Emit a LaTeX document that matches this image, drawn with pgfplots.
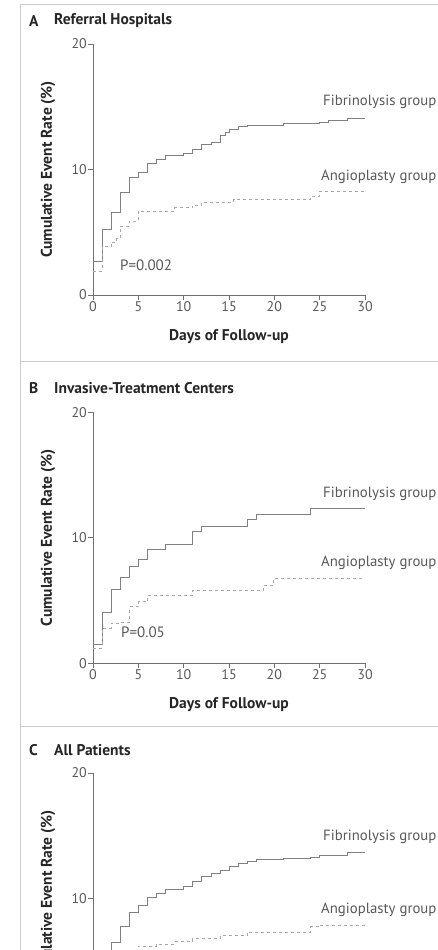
\documentclass[border=0pt]{standalone}
\usepackage{pgfplots}
\pgfplotsset{compat=1.18}
\usepackage{fontspec}
\setmainfont{PT Sans}
\newfontfamily\tickfont{PT Sans}[Numbers=OldStyle]
\definecolor{framec}{HTML}{CCCCCC}
\definecolor{axisc}{HTML}{707070}
\definecolor{fibc}{HTML}{808080}
\definecolor{angc}{HTML}{A8A8A8}
\definecolor{txt}{HTML}{262626}
\definecolor{lbl}{HTML}{585858}
\pgfplotsset{
  kmaxis/.style={
    scale only axis, width=272pt, height=251pt,
    xmin=0, xmax=30, ymin=0, ymax=20,
    axis lines=left, axis line style={-, draw=axisc, line width=0.8pt},
    xtick={0,5,...,30}, ytick={0,10,20},
    minor tick num=0,
    tick align=outside, major tick length=5pt,
    tick style={draw=axisc, line width=0.7pt},
    /pgf/number format/assume math mode=true,
    ticklabel style={font=\tickfont\fontsize{14}{16}\selectfont, text=lbl},
    yticklabel style={inner xsep=1pt},
    xticklabel style={inner ysep=1.5pt},
    clip=false,
  },
}
\tikzset{
  fib/.style={const plot, draw=fibc, line width=0.7pt},
  ang/.style={const plot, draw=angc, line width=0.7pt, dash pattern=on 3pt off 3pt},
  ttl/.style={anchor=west, text=txt, font=\fontsize{15.5}{17}\selectfont\bfseries, inner sep=0pt},
  grp/.style={anchor=west, text=lbl, font=\fontsize{14.8}{16}\selectfont, inner sep=0pt},
  pv/.style={anchor=west, text=lbl, font=\fontsize{15}{17}\selectfont, inner sep=0pt},
  axl/.style={text=txt, font=\fontsize{15.5}{17}\selectfont\bfseries, inner sep=0pt},
}
\begin{document}
\begin{tikzpicture}
\useasboundingbox (0pt,0pt) rectangle (438pt,-950pt);
\begin{scope}
\clip (0pt,0pt) rectangle (438pt,-950pt);
% frames
\draw[draw=framec, line width=1pt] (20.5pt,-950pt) -- (20.5pt,-5pt) -- (438pt,-5pt);
\draw[draw=framec, line width=1pt] (20.5pt,-361pt) -- (438pt,-361pt);
\draw[draw=framec, line width=1pt] (20.5pt,-726pt) -- (438pt,-726pt);

% ---------------- Panel A ----------------
\begin{axis}[kmaxis, at={(93pt,-295pt)}, anchor=south west]
\addplot[fib] coordinates {(0,2.7)(1,5.2)(2,6.6)(3,8.2)(4,9.4)(5,9.8)(6,10.5)(7,10.8)(8,11.15)(10,11.3)(11,11.6)(12,12.0)(13,12.2)(14,12.7)(14.6,13.0)(15,13.2)(16,13.4)(17,13.5)(21,13.65)(25,13.75)(26,13.9)(28,14.1)(30,14.1)};
\addplot[ang] coordinates {(0,1.9)(1,3.85)(2,4.2)(2.6,4.5)(3,5.5)(4,5.85)(5,6.7)(9,6.95)(11,7.15)(12,7.4)(15.5,7.6)(24,7.9)(25,8.25)(30,8.3)};
\end{axis}
\node[ttl] at (29pt,-21pt) {A};
\node[ttl] at (54pt,-21pt) {Referral Hospitals};
\node[grp] at (323pt,-101.7pt) {Fibrinolysis group};
\node[grp] at (321pt,-176.7pt) {Angioplasty group};
\node[pv] at (120pt,-265pt) {P=0.002};
\node[axl] at (229pt,-337pt) {Days of Follow-up};
\node[axl, rotate=90] at (48pt,-169.5pt) {Cumulative Event Rate (\%)};

% ---------------- Panel B ----------------
\begin{axis}[kmaxis, at={(93pt,-663.3pt)}, anchor=south west]
\addplot[fib] coordinates {(0,1.5)(1,4.1)(2,5.9)(3,6.85)(4,7.7)(5,8.3)(6,9.1)(8,9.5)(11,10.5)(12,10.95)(17,11.45)(18,11.9)(24,12.35)(30,12.35)};
\addplot[ang] coordinates {(0,1.2)(1,2.8)(2,3.2)(3,3.3)(4,4.5)(5,4.9)(6,5.45)(11,5.8)(18.8,6.25)(19.9,6.75)(30,6.75)};
\end{axis}
\node[ttl] at (29pt,-388pt) {B};
\node[ttl] at (54pt,-388pt) {Invasive-Treatment Centers};
\node[grp] at (323pt,-494pt) {Fibrinolysis group};
\node[grp] at (321pt,-562.7pt) {Angioplasty group};
\node[pv] at (121pt,-632.3pt) {P=0.05};
\node[axl] at (229pt,-705pt) {Days of Follow-up};
\node[axl, rotate=90] at (48pt,-538pt) {Cumulative Event Rate (\%)};

% ---------------- Panel C ----------------
\begin{axis}[kmaxis, at={(93pt,-1024pt)}, anchor=south west, xticklabels={}]
\addplot[fib] coordinates {(0,2.2)(1,4.8)(2,6.5)(3,7.8)(4,8.9)(5,9.45)(6,10.1)(7,10.4)(8,10.75)(10,10.93)(11,11.35)(12,11.8)(13,12.0)(14,12.28)(15,12.57)(16,12.78)(17,12.97)(18,13.13)(21,13.2)(24,13.3)(25,13.45)(28,13.66)(30,13.66)};
\addplot[ang] coordinates {(0,1.6)(1,3.5)(2,4.0)(3,5.0)(4,5.6)(5,6.2)(7,6.35)(9,6.55)(11,6.8)(14,7.05)(17,7.3)(24,7.75)(25,7.9)(30,7.9)};
\end{axis}
\node[ttl] at (29pt,-750pt) {C};
\node[ttl] at (54pt,-750pt) {All Patients};
\node[grp] at (323pt,-837.3pt) {Fibrinolysis group};
\node[grp] at (321pt,-909.3pt) {Angioplasty group};
\node[axl, rotate=90] at (48pt,-898.5pt) {Cumulative Event Rate (\%)};
\end{scope}
\end{tikzpicture}
\end{document}
